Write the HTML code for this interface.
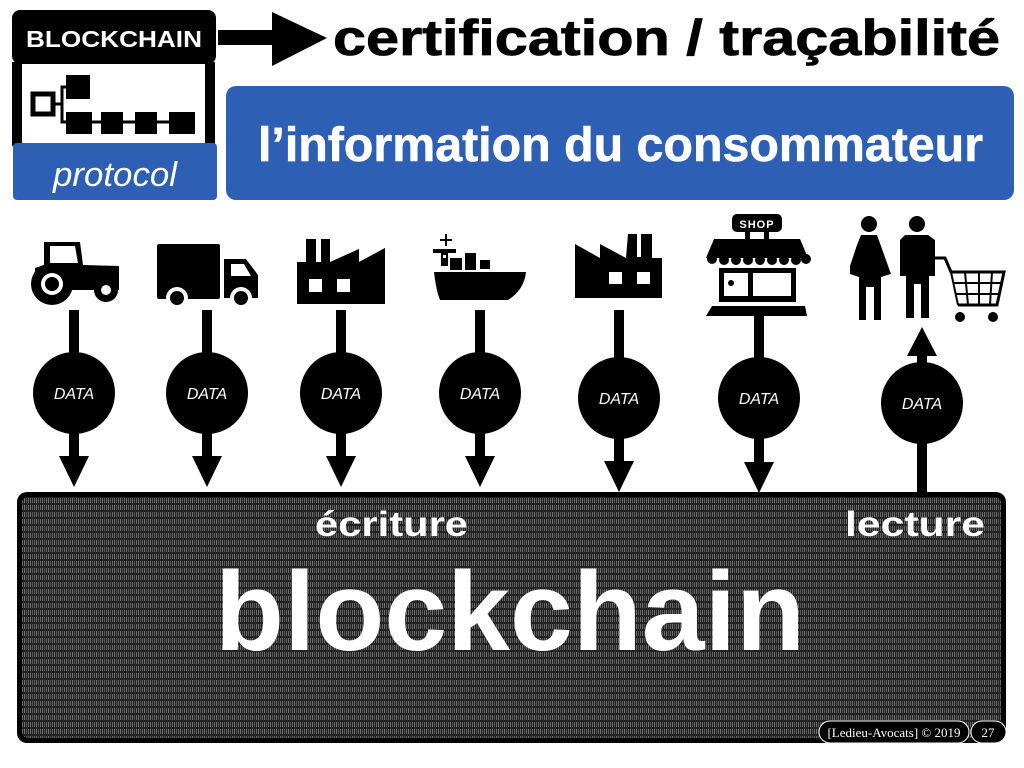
<!DOCTYPE html>
<html><head><meta charset="utf-8"><style>
html,body{margin:0;padding:0;background:#fff;}
svg{display:block;}
</style></head><body>
<svg width="1024" height="768" viewBox="0 0 1024 768" xmlns="http://www.w3.org/2000/svg" font-family="Liberation Sans, sans-serif">
<defs>
<pattern id="bin" width="6" height="7" patternUnits="userSpaceOnUse">
<rect width="6" height="7" fill="#222"/>
<rect x="0" y="1" width="1" height="5" fill="#6e6e6e"/>
<rect x="2" y="1" width="1" height="5" fill="#555"/>
<rect x="4" y="1" width="1" height="5" fill="#666"/>
</pattern>
</defs>
<!-- top left block -->
<rect x="12" y="62" width="10" height="84" fill="#000"/>
<rect x="205" y="62" width="10" height="84" fill="#000"/>
<rect x="12" y="10" width="204" height="54" rx="8" fill="#000"/>
<text x="114" y="47" fill="#fff" font-weight="bold" font-size="23" text-anchor="middle" textLength="176" lengthAdjust="spacingAndGlyphs">BLOCKCHAIN</text>
<rect x="33" y="94" width="20" height="20" fill="none" stroke="#000" stroke-width="5"/>
<path d="M55 104 L62 104 L62 87 L68 87 M62 104 L62 122 L68 122 M80 122 L195 122" stroke="#000" stroke-width="3" fill="none"/>
<rect x="66" y="75" width="24" height="24" fill="#000"/>
<rect x="66" y="112" width="26" height="22" fill="#000"/>
<rect x="101" y="112" width="22" height="22" fill="#000"/>
<rect x="135" y="112" width="22" height="22" fill="#000"/>
<rect x="169" y="112" width="26" height="22" fill="#000"/>
<rect x="13" y="143" width="204" height="57" rx="4" fill="#2d60b4"/>
<text x="115" y="186" fill="#fff" font-style="italic" font-size="34" text-anchor="middle" textLength="124" lengthAdjust="spacingAndGlyphs">protocol</text>
<rect x="218" y="30" width="60" height="15" fill="#000"/>
<polygon points="272,12 327,38 272,66" fill="#000"/>
<text x="333" y="55" font-weight="bold" font-size="50" fill="#000" stroke="#000" stroke-width="0.8" textLength="667" lengthAdjust="spacingAndGlyphs">certification / traçabilité</text>
<rect x="226" y="86" width="788" height="114" rx="10" fill="#2d60b4"/>
<text x="258" y="161" font-weight="bold" font-size="48" fill="#fff" stroke="#fff" stroke-width="0.6" textLength="725" lengthAdjust="spacingAndGlyphs">l’information du consommateur</text>

<g fill="#000">
<path d="M44 242 L44 265 L35 268 L35 290 L119 290 L119 266 L83 265 L80 242 Z M50 246 L75 246 L78 263 L50 263 Z" fill-rule="evenodd"/>
<circle cx="52" cy="284" r="21"/><circle cx="52" cy="284" r="11" fill="#fff"/><circle cx="52" cy="284" r="7"/>
<circle cx="106" cy="290" r="12"/><circle cx="106" cy="290" r="5" fill="#fff"/>
<rect x="157" y="244" width="63" height="55" rx="2"/>
<path d="M224 259 L246 259 L258 275 L258 298 L224 298 Z"/>
<path d="M231 264 L244 264 L251 276 L231 276 Z" fill="#fff"/>
<circle cx="177" cy="298" r="11" fill="#fff"/><circle cx="177" cy="298" r="7"/>
<circle cx="241" cy="298" r="11" fill="#fff"/><circle cx="241" cy="298" r="7"/>
<path d="M297 304 L297 262 L306 262 L306 239 L316 239 L316 262 L321 262 L321 239 L330 239 L330 262 L359 249 L359 262 L385 248 L385 304 Z"/>
<rect x="309" y="279" width="13" height="13" fill="#fff"/><rect x="337" y="279" width="13" height="13" fill="#fff"/>
<rect x="445" y="234" width="2" height="12"/><rect x="440" y="239" width="12" height="2"/>
<rect x="433" y="249" width="23" height="4"/><rect x="441" y="252" width="7" height="14"/>
<rect x="443" y="255" width="3" height="3" fill="#fff"/>
<rect x="450" y="258" width="12" height="12"/><rect x="465" y="253" width="11" height="17"/><rect x="480" y="260" width="10" height="9"/>
<path d="M434 272 L526 272 Q524 290 508 300 L440 300 Q436 290 434 272 Z"/>
<path d="M575 298 L575 244 L600 258 L600 244 L626 258 L628 234 L637 234 L637 257 L641 257 L641 234 L652 234 L652 258 L662 258 L662 298 Z"/>
<rect x="609" y="272" width="13" height="12" fill="#fff"/><rect x="637" y="272" width="13" height="12" fill="#fff"/>
<rect x="732" y="214" width="50" height="18" rx="5"/>
<text x="757" y="228" fill="#fff" font-size="11" font-weight="bold" text-anchor="middle" letter-spacing="1">SHOP</text>
<rect x="745" y="231" width="5" height="8"/><rect x="764" y="231" width="5" height="8"/>
<path d="M714 239 L800 239 L808 258 L706 258 Z"/>
<circle cx="712" cy="259" r="5"/><circle cx="724" cy="260" r="5"/><circle cx="736" cy="260" r="5"/><circle cx="748" cy="260" r="5"/><circle cx="760" cy="260" r="5"/><circle cx="772" cy="260" r="5"/><circle cx="784" cy="260" r="5"/><circle cx="796" cy="260" r="5"/><circle cx="806" cy="259" r="5"/>
<path d="M719 268 L796 268 L796 302 L719 302 Z M724 273 L748 273 L748 296 L724 296 Z M753 273 L791 273 L791 296 L753 296 Z" fill-rule="evenodd"/>
<circle cx="731" cy="283" r="3"/>
<path d="M712 306 L805 306 L807 316 L706 316 Z"/>
<circle cx="869" cy="224" r="8"/>
<path d="M861 235 L877 235 L891 274 L881 277 L881 320 L874 320 L874 287 L866 287 L866 320 L859 320 L859 277 L850 274 L850 266 L857 245 Z"/>
<circle cx="917" cy="224" r="8"/>
<path d="M905 235 L928 235 L935 240 L935 276 L929 276 L929 318 L921 318 L921 284 L914 284 L914 318 L906 318 L906 276 L900 276 L900 240 Z"/>
<path d="M934 258 L945 258 L951 272 L1004 272 L997 305 L958 305" fill="none" stroke="#000" stroke-width="3"/>
<path d="M951 272 L958 305 M965 272 L968 305 M979 272 L979 305 M992 272 L990 305 M953 283 L1001 283 M956 294 L999 294" stroke="#000" stroke-width="2" fill="none"/>
<circle cx="960" cy="317" r="5"/><circle cx="993" cy="317" r="5"/>
</g>

<g fill="#000">
<rect x="69" y="310" width="10" height="150"/><circle cx="74" cy="393" r="41"/><polygon points="59,456 89,456 74,487"/>
<rect x="202" y="310" width="10" height="150"/><circle cx="207" cy="393" r="41"/><polygon points="192,456 222,456 207,487"/>
<rect x="336" y="310" width="10" height="150"/><circle cx="341" cy="393" r="41"/><polygon points="326,456 356,456 341,487"/>
<rect x="475" y="310" width="10" height="150"/><circle cx="480" cy="393" r="41"/><polygon points="465,456 495,456 480,487"/>
<rect x="614" y="310" width="10" height="155"/><circle cx="619" cy="398" r="41"/><polygon points="604,461 634,461 619,492"/>
<rect x="754" y="316" width="10" height="150"/><circle cx="759" cy="398" r="41"/><polygon points="744,462 774,462 759,493"/>
<rect x="917" y="352" width="10" height="142"/><circle cx="922" cy="403" r="41"/><polygon points="907,356 937,356 922,327"/>
</g>
<g fill="#fff" font-style="italic" font-size="16" text-anchor="middle">
<text x="74" y="399">DATA</text><text x="207" y="399">DATA</text><text x="341" y="399">DATA</text><text x="480" y="399">DATA</text>
<text x="619" y="404">DATA</text><text x="759" y="404">DATA</text><text x="922" y="409">DATA</text>
</g>

<rect x="17" y="492" width="989" height="251" rx="10" fill="#000"/>
<rect x="22" y="497" width="979" height="241" rx="6" fill="url(#bin)"/>
<text x="315" y="536" fill="#fff" font-weight="bold" font-size="35" textLength="153" lengthAdjust="spacingAndGlyphs">écriture</text>
<text x="845" y="536" fill="#fff" font-weight="bold" font-size="35" textLength="140" lengthAdjust="spacingAndGlyphs">lecture</text>
<text x="215" y="650" fill="#fff" font-weight="bold" font-size="112" textLength="590" lengthAdjust="spacingAndGlyphs">blockchain</text>
<rect x="819" y="721" width="150" height="22" rx="11" fill="#000" stroke="#fff" stroke-width="1"/>
<text x="894" y="737" fill="#fff" font-family="Liberation Serif, serif" font-size="13" text-anchor="middle">[Ledieu-Avocats] © 2019</text>
<rect x="971" y="721" width="35" height="22" rx="11" fill="#000" stroke="#fff" stroke-width="1"/>
<text x="988" y="737" fill="#fff" font-family="Liberation Serif, serif" font-size="13" text-anchor="middle">27</text>
</svg>
</body></html>
